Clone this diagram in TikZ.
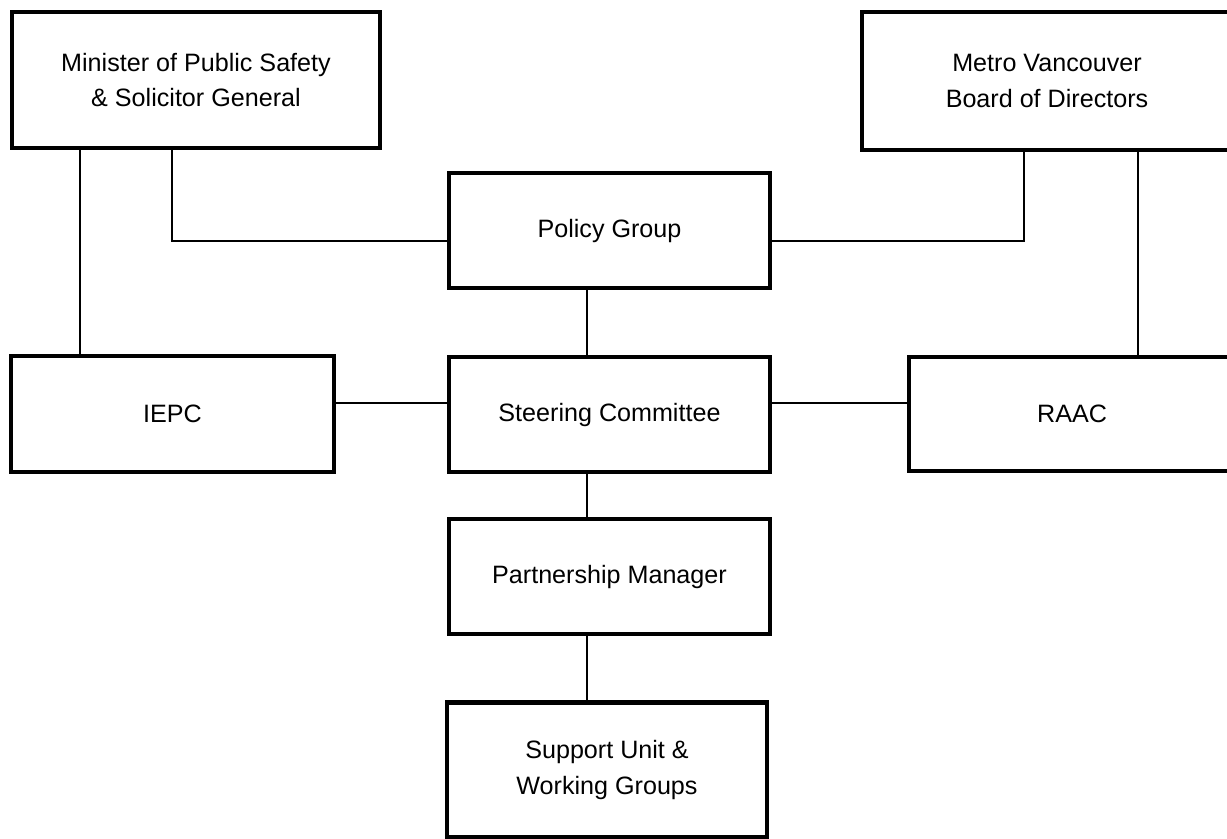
\documentclass[tikz,border=0pt]{standalone}
\usepackage{fontspec}
\setmainfont{Liberation Sans}
\usetikzlibrary{arrows,shapes,arrows.meta}

\begin{document}
\begin{tikzpicture}
            \useasboundingbox (0,0) rectangle (24.54,-16.76);
            \begin{scope}[every node/.style={rectangle,draw,line width=2.8pt,align=center,inner sep=0pt,
                    font=\fontsize{14.3}{20}\selectfont}]
                \node (min)[minimum width=7.36cm,minimum height=2.72cm] at (3.92,-1.60) {Minister of Public Safety\\\& Solicitor General};
                \node (metro)[minimum width=7.40cm,minimum height=2.76cm] at (20.94,-1.62) {Metro Vancouver\\Board of Directors};
                \node (policy)[minimum width=6.42cm,minimum height=2.30cm] at (12.19,-4.61) {Policy Group};
                \node (iepc)[minimum width=6.46cm,minimum height=2.32cm] at (3.45,-8.28) {IEPC};
                \node (steer)[minimum width=6.42cm,minimum height=2.30cm] at (12.19,-8.29) {Steering Committee};
                \node (raac)[minimum width=6.52cm,minimum height=2.28cm] at (21.44,-8.28) {RAAC};
                \node (partner)[minimum width=6.42cm,minimum height=2.30cm] at (12.19,-11.53) {Partnership Manager};
                \node (support)[minimum width=6.40cm,minimum height=2.70cm] at (12.14,-15.40) {Support Unit \&\\Working Groups};
            \end{scope}

            \coordinate (ml) at (1.60,-4.82);
            \coordinate (mr) at (3.44,-4.82);
            \coordinate (vl) at (20.48,-4.82);
            \coordinate (vr) at (22.76,-8.06);
            \coordinate (mid) at (11.74,-8.06);

            \begin{scope}[line width=1.1pt]
                \draw (min.south -| ml) -- (iepc.north -| ml);
                \draw (min.south -| mr) -- (mr) -- (policy.west |- mr);
                \draw (metro.south -| vl) -- (vl) -- (policy.east |- vl);
                \draw (metro.south -| vr) -- (raac.north -| vr);
                \draw (iepc.east |- mid) -- (steer.west |- mid);
                \draw (steer.east |- mid) -- (raac.west |- mid);
                \draw (policy.south -| mid) -- (steer.north -| mid);
                \draw (steer.south -| mid) -- (partner.north -| mid);
                \draw (partner.south -| mid) -- (support.north -| mid);
            \end{scope}
            \end{tikzpicture}
\end{document}
